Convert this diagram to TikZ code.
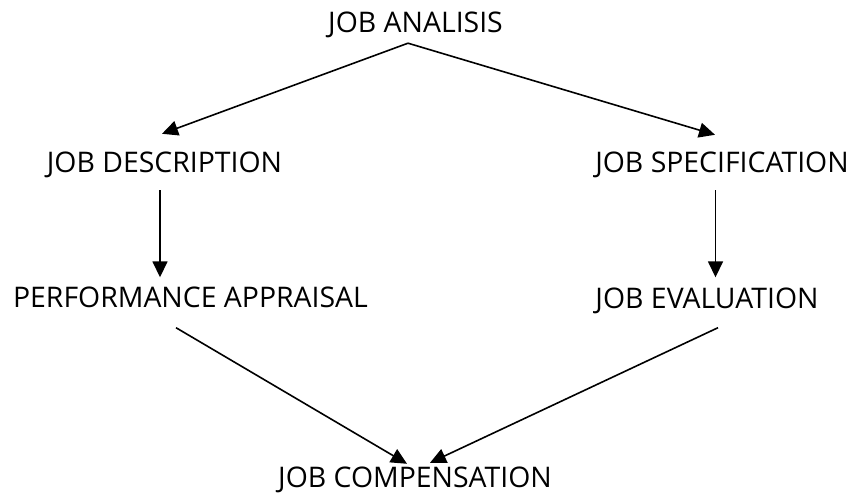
\documentclass[tikz,border=0pt]{standalone}
\usepackage{fontspec}
\setmainfont{Open Sans}
\usetikzlibrary{arrows.meta}

\tikzset{
  lbl/.style={inner sep=0pt, text height=20pt, text depth=0pt,
              font=\fontsize{28.4}{32}\selectfont},
  arr/.style={-{Triangle[length=16pt,width=15pt]}, line width=1.6pt}
}

\begin{document}
\begin{tikzpicture}[x=1pt,y=-1pt]
	\useasboundingbox (0,0) rectangle (856,494);

	\node[lbl] (ana)  at (415.5,22.5) {JOB ANALISIS};
	\node[lbl] (desc) at (164.5,162.5) {JOB DESCRIPTION};
	\node[lbl] (spec) at (722,162.5) {JOB SPECIFICATION};
	\node[lbl] (perf) at (190.5,297) {PERFORMANCE APPRAISAL};
	\node[lbl] (eval) at (707,298) {JOB EVALUATION};
	\node[lbl] (comp) at (415,477) {JOB COMPENSATION};

	% fork from the top
	\draw[arr] ([xshift=-7.5pt,yshift=-10.5pt]ana.south) -- ([xshift=-2.5pt,yshift=18.5pt]desc.north);
	\draw[arr] ([xshift=-7.5pt,yshift=-10.5pt]ana.south) -- ([xshift=-7pt,yshift=17.5pt]spec.north);

	% straight down
	\draw[arr] ([xshift=-4.5pt,yshift=-17.5pt]desc.south) -- ([xshift=-30.5pt,yshift=9.5pt]perf.north);
	\draw[arr] ([xshift=-6.5pt,yshift=-17.5pt]spec.south) -- ([xshift=8.5pt,yshift=10.5pt]eval.north);

	% join at the bottom
	\draw[arr] ([xshift=-14.5pt,yshift=-20.5pt]perf.south) -- ([xshift=-8pt,yshift=3pt]comp.north);
	\draw[arr] ([xshift=11pt,yshift=-19.5pt]eval.south) -- ([xshift=15pt,yshift=4pt]comp.north);
\end{tikzpicture}
\end{document}
